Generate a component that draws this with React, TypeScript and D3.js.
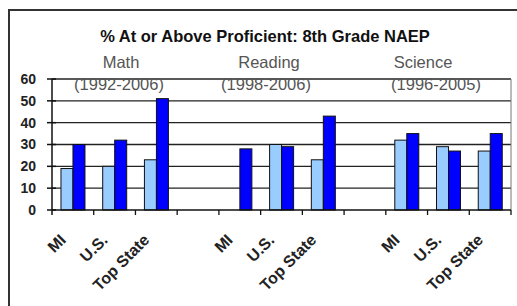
import { useEffect, useRef } from 'react';
import * as d3 from 'd3';

// one slot per category; blank slots separate the three subjects
const categories = ['MI', 'U.S.', 'Top State', '', 'MI', 'U.S.', 'Top State', '', 'MI', 'U.S.', 'Top State'];
const earlyValues: (number | null)[] = [19, 20, 23, null, null, 30, 23, null, 32, 29, 27];
const lateValues: (number | null)[] = [30, 32, 51, null, 28, 29, 43, null, 35, 27, 35];
const yTicks = [0, 10, 20, 30, 40, 50, 60];

const title = '% At or Above Proficient: 8th Grade NAEP';
const subjects = [
  { name: 'Math', years: '(1992-2006)', nx: 121, yx: 119 },
  { name: 'Reading', years: '(1998-2006)', nx: 269, yx: 266 },
  { name: 'Science', years: '(1996-2005)', nx: 423, yx: 436 },
];

export default function App() {
  const ref = useRef<SVGSVGElement | null>(null);

  useEffect(() => {
    if (!ref.current) return;
    const svg = d3.select(ref.current);
    svg.selectAll('*').remove();

    const width = 517;
    const height = 306;
    const left = 52, right = 511, top = 79, bottom = 210;
    const font = 'Arial, "Liberation Sans", sans-serif';

    svg.attr('width', width).attr('height', height);
    svg.append('rect').attr('width', width).attr('height', height).attr('fill', '#fff');

    // outer chart frame, runs off the right and bottom of the picture
    svg.append('rect')
      .attr('x', 9).attr('y', 10)
      .attr('width', 540).attr('height', 330)
      .attr('fill', 'none').attr('stroke', '#333').attr('stroke-width', 2);

    const idx = categories.map((_, i) => String(i));
    const x = d3.scaleBand().domain(idx).range([left, right]);
    const x1 = d3.scaleBand().domain(['early', 'late'])
      .range([x.bandwidth() * 0.215, x.bandwidth() * 0.79]);
    const y = d3.scaleLinear().domain([0, 60]).range([bottom, top]);

    // gridlines
    svg.append('g').selectAll('line')
      .data(yTicks.filter(d => d > 0))
      .enter().append('line')
      .attr('x1', left).attr('x2', right)
      .attr('y1', d => y(d)).attr('y2', d => y(d))
      .attr('stroke', '#222').attr('stroke-width', 1.3);

    // plot area right edge
    svg.append('line')
      .attr('x1', right).attr('x2', right).attr('y1', top).attr('y2', bottom)
      .attr('stroke', '#777').attr('stroke-width', 1);

    // subject labels sit over the top gridline
    subjects.forEach(s => {
      svg.append('text').text(s.name)
        .attr('x', s.nx).attr('y', 68).attr('text-anchor', 'middle')
        .attr('font-family', font).attr('font-size', 16.5).attr('fill', '#555');
      svg.append('text').text(s.years)
        .attr('x', s.yx).attr('y', 90).attr('text-anchor', 'middle')
        .attr('font-family', font).attr('font-size', 16.5).attr('fill', '#555');
    });

    svg.append('text').text(title)
      .attr('x', 265).attr('y', 42).attr('text-anchor', 'middle')
      .attr('font-family', font).attr('font-size', 16.5).attr('font-weight', 'bold')
      .attr('fill', '#111');

    const rows = idx.map((k, i) => ({ k, early: earlyValues[i], late: lateValues[i] }));

    const bars = svg.append('g');
    (['early', 'late'] as const).forEach(series => {
      bars.selectAll(`rect.${series}`)
        .data(rows.filter(r => r[series] != null))
        .enter().append('rect')
        .attr('class', series)
        .attr('x', r => x(r.k)! + x1(series)!)
        .attr('y', r => y(r[series] as number))
        .attr('width', x1.bandwidth())
        .attr('height', r => bottom - y(r[series] as number))
        .attr('fill', series === 'early' ? '#99ccff' : '#0000ff')
        .attr('stroke', '#111').attr('stroke-width', 1);
    });

    // y axis
    const yAxis = svg.append('g');
    yAxis.append('line')
      .attr('x1', left).attr('x2', left).attr('y1', top).attr('y2', bottom + 5)
      .attr('stroke', '#111').attr('stroke-width', 1.5);
    yAxis.selectAll('line.tick')
      .data(yTicks).enter().append('line')
      .attr('class', 'tick')
      .attr('x1', left - 5).attr('x2', left + 4)
      .attr('y1', d => y(d)).attr('y2', d => y(d))
      .attr('stroke', '#111').attr('stroke-width', 1.5);
    yAxis.selectAll('text')
      .data(yTicks).enter().append('text')
      .text(d => d)
      .attr('x', 36).attr('y', d => y(d)).attr('dy', '0.35em')
      .attr('text-anchor', 'end')
      .attr('font-family', font).attr('font-size', 14).attr('font-weight', 'bold')
      .attr('fill', '#222');

    // x axis
    const xAxis = svg.append('g');
    xAxis.append('line')
      .attr('x1', left).attr('x2', right).attr('y1', bottom).attr('y2', bottom)
      .attr('stroke', '#111').attr('stroke-width', 1.5);
    xAxis.selectAll('line.tick')
      .data(idx).enter().append('line')
      .attr('class', 'tick')
      .attr('x1', k => x(k)! + x.bandwidth()).attr('x2', k => x(k)! + x.bandwidth())
      .attr('y1', bottom).attr('y2', bottom + 5)
      .attr('stroke', '#111').attr('stroke-width', 1.3);
    xAxis.selectAll('text')
      .data(idx).enter().append('text')
      .text(k => categories[+k])
      .attr('transform', k => `translate(${x(k)! + x.bandwidth() / 2 - 6},${bottom + 31}) rotate(-45)`)
      .attr('text-anchor', 'end')
      .attr('font-family', font).attr('font-size', 16).attr('font-weight', 'bold')
      .attr('fill', '#222');
  }, []);

  return (
    <div style={{ position: 'absolute', left: 0, top: 0 }}>
      <svg ref={ref}></svg>
    </div>
  );
}
